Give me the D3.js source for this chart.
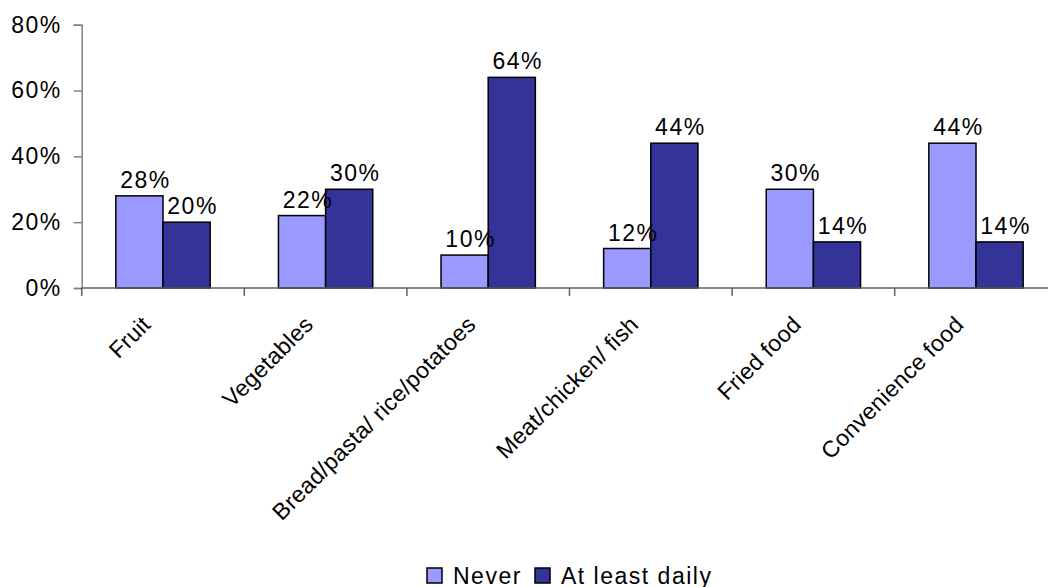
<!DOCTYPE html>
<html>
<head>
<meta charset="utf-8">
<script src="https://cdn.jsdelivr.net/npm/d3@7"></script>
<style>
  html, body { margin: 0; padding: 0; background: #fff; }
  svg { display: block; font-family: "Liberation Sans", Arial, sans-serif; }
  svg text { letter-spacing: 1.5px; }
  svg text.category { letter-spacing: 0.3px; }
</style>
</head>
<body>
<svg id="chart" width="1048" height="587"></svg>
<script>
// Food categories and the share of respondents per frequency
const categories = ["Fruit", "Vegetables", "Bread/pasta/ rice/potatoes", "Meat/chicken/ fish", "Fried food", "Convenience food"];
const seriesNames = ["Never", "At least daily"];
const never = [28, 22, 10, 12, 30, 44];
const atLeastDaily = [20, 30, 64, 44, 14, 14];
const yTicks = [0, 20, 40, 60, 80];
const colors = ["#9999FF", "#333399"];

const series = [never, atLeastDaily];
const rows = categories.map((c, i) => ({ category: c, values: series.map((s, k) => ({ key: seriesNames[k], k, value: s[i] })) }));

const svg = d3.select("#chart");
const fontSize = 23;

const x0 = d3.scaleBand().domain(categories).range([81.7, 1057.3]).padding(0);
const x1 = d3.scaleBand().domain(seriesNames).range([0, x0.bandwidth()]).paddingInner(0).paddingOuter(0.724);
const y = d3.scaleLinear().domain([0, 80]).range([288, 24.7]);

// Y axis
const yAxis = svg.append("g").attr("transform", `translate(${x0.range()[0]},0)`)
  .call(d3.axisLeft(y).tickValues(yTicks).tickSize(8).tickPadding(12).tickFormat(d => d + "%"));
yAxis.select(".domain").attr("stroke", "#808080").attr("stroke-width", 1.5);
yAxis.selectAll(".tick line").attr("stroke", "#808080").attr("stroke-width", 1.5);
yAxis.selectAll(".tick text").attr("font-size", fontSize).attr("fill", "#000").attr("dy", "0.32em")
  .attr("font-family", "Liberation Sans, Arial, sans-serif");

// Bars
const groups = svg.append("g").selectAll("g").data(rows).join("g")
  .attr("transform", d => `translate(${x0(d.category)},0)`);

groups.selectAll("rect").data(d => d.values).join("rect")
  .attr("x", d => x1(d.key))
  .attr("y", d => y(d.value))
  .attr("width", x1.bandwidth())
  .attr("height", d => y(0) - y(d.value))
  .attr("fill", d => colors[d.k])
  .attr("stroke", "#000")
  .attr("stroke-width", 1.5);

groups.selectAll("text.value").data(d => d.values).join("text")
  .attr("class", "value")
  .attr("x", d => x1(d.key) + x1.bandwidth() / 2 + 6)
  .attr("y", d => y(d.value) - 8)
  .attr("text-anchor", "middle")
  .attr("font-size", fontSize)
  .attr("fill", "#000")
  .text(d => d.value + "%");

// X axis
const xAxis = svg.append("g").attr("transform", `translate(0,${y(0)})`);
xAxis.append("line")
  .attr("x1", x0.range()[0]).attr("x2", x0.range()[1])
  .attr("stroke", "#606060").attr("stroke-width", 1.5);
const boundaries = categories.map(c => x0(c) + x0.bandwidth()).concat([x0.range()[0]]);
xAxis.selectAll("line.tick").data(boundaries).join("line")
  .attr("class", "tick")
  .attr("x1", d => d).attr("x2", d => d)
  .attr("y1", 0).attr("y2", 8)
  .attr("stroke", "#606060").attr("stroke-width", 1.5);

svg.append("g").selectAll("text").data(categories).join("text")
  .attr("class", "category")
  .attr("transform", d => `translate(${x0(d) + x0.bandwidth() / 2 - 11},326) rotate(-45)`)
  .attr("text-anchor", "end")
  .attr("font-size", fontSize)
  .attr("fill", "#000")
  .text(d => d);

// Legend
const legend = svg.append("g").attr("transform", "translate(427,568)");
const legendX = [0, 108];
const items = legend.selectAll("g").data(seriesNames).join("g")
  .attr("transform", (d, i) => `translate(${legendX[i]},0)`);
items.append("rect")
  .attr("width", 15).attr("height", 15)
  .attr("fill", (d, i) => colors[i])
  .attr("stroke", "#000").attr("stroke-width", 1.5);
items.append("text")
  .attr("x", 26).attr("y", 16)
  .attr("font-size", fontSize)
  .attr("fill", "#000")
  .text(d => d);
</script>
</body>
</html>
